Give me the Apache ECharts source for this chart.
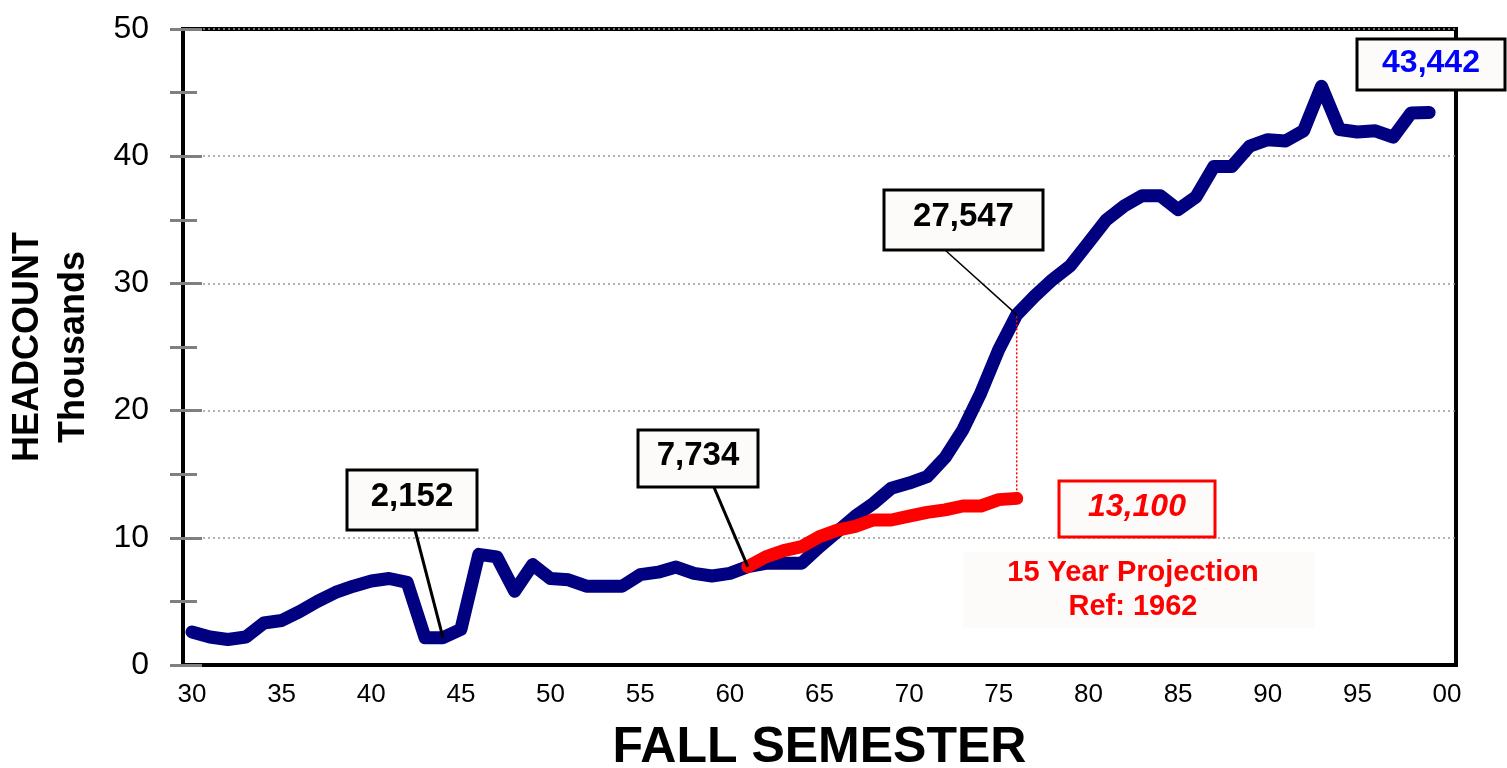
<!DOCTYPE html>
<html><head><meta charset="utf-8">
<script src="https://cdn.jsdelivr.net/npm/echarts@6/dist/echarts.min.js"></script>
<style>html,body{margin:0;padding:0;background:#fff}#c{width:1507px;height:768px}</style>
</head><body><div id="c"></div>
<script>
const years = ['1930','1931','1932','1933','1934','1935','1936','1937','1938','1939',
'1940','1941','1942','1943','1944','1945','1946','1947','1948','1949',
'1950','1951','1952','1953','1954','1955','1956','1957','1958','1959',
'1960','1961','1962','1963','1964','1965','1966','1967','1968','1969',
'1970','1971','1972','1973','1974','1975','1976','1977','1978','1979',
'1980','1981','1982','1983','1984','1985','1986','1987','1988','1989',
'1990','1991','1992','1993','1994','1995','1996','1997','1998','1999','2000'];
const headcount = [2.6,2.2,2.0,2.2,3.3,3.5,4.2,5.0,5.7,6.2,
6.6,6.8,6.5,2.15,2.152,2.8,8.7,8.5,5.8,7.9,
6.8,6.7,6.2,6.2,6.2,7.1,7.3,7.7,7.2,7.0,
7.2,7.734,8.0,8.0,8.0,9.3,10.5,11.7,12.7,13.9,
14.3,14.8,16.3,18.5,21.4,24.8,27.547,29.0,30.3,31.4,
33.2,35.0,36.1,36.9,36.9,35.8,36.8,39.2,39.2,40.8,
41.3,41.2,42.0,45.5,42.1,41.9,42.0,41.5,43.4,43.442];
const projYears = ['1961','1962','1963','1964','1965','1966','1967','1968','1969','1970','1971','1972','1973','1974','1975','1976'];
const projection = [7.734,8.5,9.0,9.3,10.1,10.6,10.9,11.4,11.4,11.7,12.0,12.2,12.5,12.5,13.0,13.1];
const callouts = [
  {year:'1944', value:2.152, text:'2,152'},
  {year:'1961', value:7.734, text:'7,734'},
  {year:'1976', value:27.547, text:'27,547'}
];
const projLabel = '13,100';
const lastLabel = '43,442';
const projNote = ['15 Year Projection','Ref: 1962'];

const FONT = '"Liberation Sans", Arial, sans-serif';
const chart = echarts.init(document.getElementById('c'));
const projData = projYears.map((y,i)=>[y, projection[i]]);
const option = {
  animation:false,
  backgroundColor:'#fff',
  grid:{left:183, right:51, top:29, bottom:103, containLabel:false, outerBoundsMode:'none',
        show:true, borderColor:'#000', borderWidth:4, backgroundColor:'transparent'},
  xAxis:{
    type:'category', data:years, boundaryGap:true,
    axisLine:{show:true, lineStyle:{color:'#000', width:4}},
    axisTick:{show:false},
    axisLabel:{interval:4, formatter:v=>v.slice(2), color:'#000', fontFamily:FONT, fontSize:26, margin:17},
    name:'FALL SEMESTER', nameLocation:'middle', nameGap:58,
    nameTextStyle:{fontFamily:FONT, fontWeight:'bold', fontSize:50, color:'#000'},
    splitLine:{show:false}
  },
  yAxis:[{
    type:'value', min:0, max:50, interval:10,
    axisLine:{show:true, lineStyle:{color:'#000', width:4}},
    axisTick:{show:true, length:13, lineStyle:{color:'#808080', width:3}},
    minorTick:{show:true, splitNumber:2, length:13, lineStyle:{color:'#808080', width:3}},
    axisLabel:{color:'#000', fontFamily:FONT, fontSize:32, margin:34},
    splitLine:{show:true, lineStyle:{color:'#999', width:1.5, type:[2,3]}},
    name:'HEADCOUNT\nThousands', nameLocation:'middle', nameGap:86,
    nameTextStyle:{fontFamily:FONT, fontWeight:'bold', fontSize:36, color:'#000', lineHeight:46}
  },{
    type:'value', min:0, max:50, interval:10, position:'left',
    axisLine:{show:false},
    axisTick:{show:true, inside:true, length:19, lineStyle:{color:'#808080', width:3}},
    minorTick:{show:true, splitNumber:2, length:14, lineStyle:{color:'#808080', width:3}},
    axisLabel:{show:false}, splitLine:{show:false}
  }],
  series:[
    {type:'line', data:headcount, symbol:'none', z:3,
     lineStyle:{color:'#000080', width:13, cap:'round', join:'round'}},
    {type:'line', data:projData, symbol:'none', z:4,
     lineStyle:{color:'#ff0000', width:13, cap:'round', join:'round'}},
    {type:'line', data:[['1976',projection[projection.length-1]],['1976',27.547]], symbol:'none', z:5,
     lineStyle:{color:'#ff0000', width:1.5, type:[2,2]}}
  ]
};
chart.setOption(option);

const boxFill = '#fcfbf9';
const boxes = [
  {x:347, y:470, w:130, h:60, from:[415,530], lw:3},
  {x:638, y:430, w:120, h:57, from:[713,485], lw:3},
  {x:884, y:190, w:159, h:60, from:[945,250], lw:1.5}
];
const g = [];
callouts.forEach((c,i)=>{
  const b = boxes[i];
  const p = chart.convertToPixel({seriesIndex:0}, [c.year, c.value]);
  g.push({type:'line', shape:{x1:b.from[0], y1:b.from[1], x2:p[0], y2:p[1]}, style:{stroke:'#000', lineWidth:b.lw}, z:10});
  g.push({type:'rect', shape:{x:b.x, y:b.y, width:b.w, height:b.h}, style:{fill:boxFill, stroke:'#000', lineWidth:3}, z:11});
  g.push({type:'text', x:b.x+b.w/2, y:b.y+b.h/2-3, style:{text:c.text, fill:'#000', font:'bold 33px '+FONT, textAlign:'center', textVerticalAlign:'middle'}, z:12});
});
g.push({type:'rect', shape:{x:1357, y:39, width:148, height:51}, style:{fill:boxFill, stroke:'#000', lineWidth:3}, z:11});
g.push({type:'text', x:1431, y:63, style:{text:lastLabel, fill:'#0000ff', font:'bold 32px '+FONT, textAlign:'center', textVerticalAlign:'middle'}, z:12});
g.push({type:'rect', shape:{x:1059, y:481, width:156, height:56}, style:{fill:boxFill, stroke:'#ff0000', lineWidth:3}, z:11});
g.push({type:'text', x:1137, y:507, style:{text:projLabel, fill:'#ff0000', font:'italic bold 32px '+FONT, textAlign:'center', textVerticalAlign:'middle'}, z:12});
g.push({type:'rect', shape:{x:963, y:552, width:352, height:76}, style:{fill:boxFill}, z:11});
g.push({type:'text', x:1133, y:573, style:{text:projNote[0], fill:'#ff0000', font:'bold 29px '+FONT, textAlign:'center', textVerticalAlign:'middle'}, z:12});
g.push({type:'text', x:1133, y:607, style:{text:projNote[1], fill:'#ff0000', font:'bold 29px '+FONT, textAlign:'center', textVerticalAlign:'middle'}, z:12});
chart.setOption({graphic:g});
</script></body></html>
